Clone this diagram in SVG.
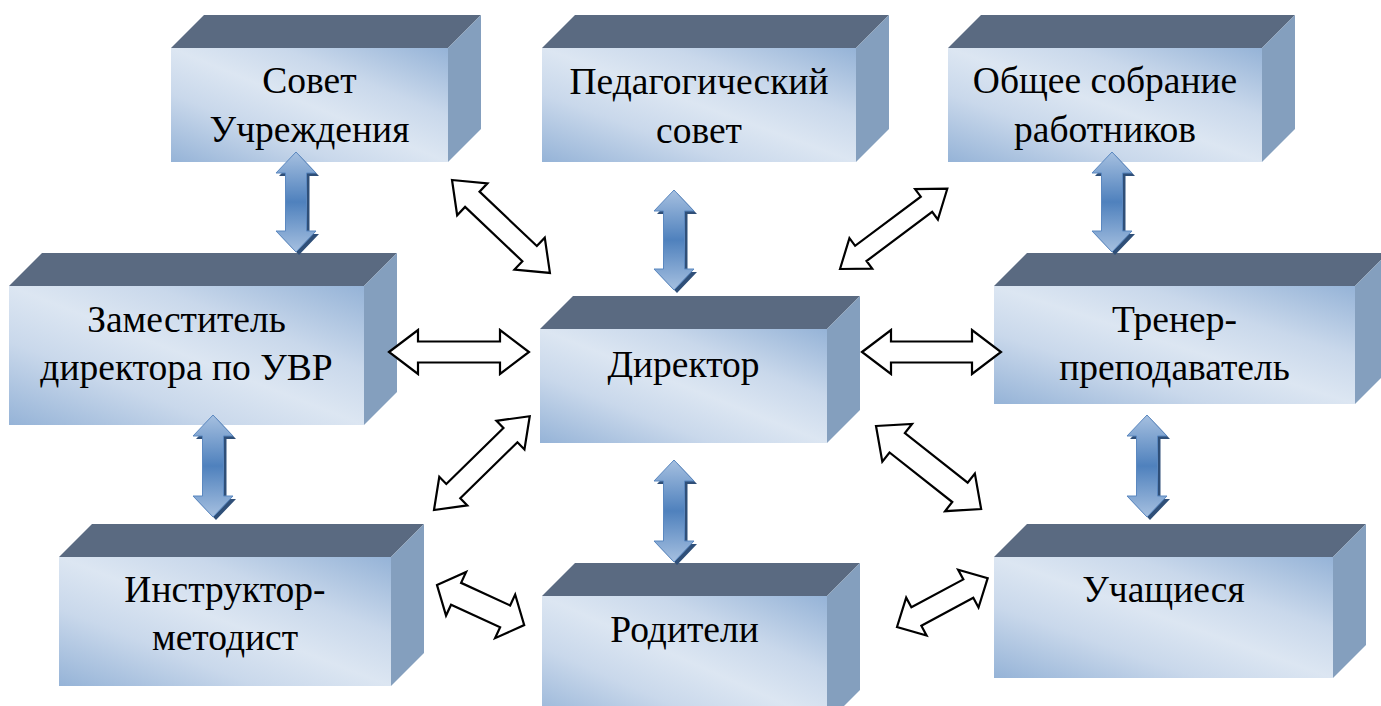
<svg xmlns="http://www.w3.org/2000/svg" width="1381" height="706" viewBox="0 0 1381 706">
<defs>
<style>
.front{fill:url(#gFront)}
.top{fill:#5a6a81}
.side{fill:#849fbe}
.lbl{font-family:"Liberation Serif","Times New Roman","DejaVu Serif",serif;font-size:37.5px;fill:#000;text-anchor:middle}
.wa{fill:#fff;stroke:#000;stroke-width:2.2;stroke-linejoin:miter}
.ba{fill:url(#gBlue);stroke:#5b88c0;stroke-width:1}
.bs{fill:#2f4f78}
</style>
<linearGradient id="gFront" x1="0" y1="1" x2="1" y2="0">
<stop offset="0" stop-color="#95b3d7"/>
<stop offset="0.3" stop-color="#c9d8eb"/>
<stop offset="0.5" stop-color="#dce6f2"/>
<stop offset="0.7" stop-color="#c9d8eb"/>
<stop offset="1" stop-color="#95b3d7"/>
</linearGradient>
<linearGradient id="gBlue" x1="0" y1="0" x2="0" y2="1">
<stop offset="0" stop-color="#a6c0e0"/>
<stop offset="0.5" stop-color="#4f81bd"/>
<stop offset="1" stop-color="#a6c0e0"/>
</linearGradient>
<path id="bv100" d="M0,0 L20,21 L10.5,21 L10.5,79 L20,79 L0,100 L-20,79 L-10.5,79 L-10.5,21 L-20,21 Z"/>
<path id="bv102" d="M0,0 L20,21 L10.5,21 L10.5,81 L20,81 L0,102 L-20,81 L-10.5,81 L-10.5,21 L-20,21 Z"/>
</defs>
<rect width="1381" height="706" fill="#fff"/>

<g id="node-sovet">
<polygon class="top" points="171,48 204,15 481,15 448,48"/>
<polygon class="side" points="448,48 481,15 481,129 448,162"/>
<rect class="front" x="171" y="48" width="277" height="114"/>
<text class="lbl" x="309.5" y="93">Совет</text>
<text class="lbl" x="309.5" y="142">Учреждения</text>
</g>

<g id="node-pedsovet">
<polygon class="top" points="542,48 575,15 889,15 856,48"/>
<polygon class="side" points="856,48 889,15 889,129 856,162"/>
<rect class="front" x="542" y="48" width="314" height="114"/>
<text class="lbl" x="699" y="94">Педагогический</text>
<text class="lbl" x="699" y="143">совет</text>
</g>

<g id="node-sobranie">
<polygon class="top" points="948,48 981,15 1295,15 1262,48"/>
<polygon class="side" points="1262,48 1295,15 1295,129 1262,162"/>
<rect class="front" x="948" y="48" width="314" height="114"/>
<text class="lbl" x="1105" y="93">Общее собрание</text>
<text class="lbl" x="1105" y="142">работников</text>
</g>

<g id="node-zam">
<polygon class="top" points="9,286 42,253 397,253 364,286"/>
<polygon class="side" points="364,286 397,253 397,392 364,425"/>
<rect class="front" x="9" y="286" width="355" height="139"/>
<text class="lbl" x="186.5" y="332">Заместитель</text>
<text class="lbl" x="186.5" y="380">директора по УВР</text>
</g>

<g id="node-director">
<polygon class="top" points="540,329 573,296 860,296 827,329"/>
<polygon class="side" points="827,329 860,296 860,410 827,443"/>
<rect class="front" x="540" y="329" width="287" height="114"/>
<text class="lbl" x="683.5" y="377">Директор</text>
</g>

<g id="node-trener">
<polygon class="top" points="994,286 1027,253 1388,253 1355,286"/>
<polygon class="side" points="1355,286 1388,253 1388,371 1355,404"/>
<rect class="front" x="994" y="286" width="361" height="118"/>
<text class="lbl" x="1174.5" y="332">Тренер-</text>
<text class="lbl" x="1174.5" y="380">преподаватель</text>
</g>

<g id="node-instruktor">
<polygon class="top" points="59,557 92,524 424,524 391,557"/>
<polygon class="side" points="391,557 424,524 424,653 391,686"/>
<rect class="front" x="59" y="557" width="332" height="129"/>
<text class="lbl" x="225" y="602">Инструктор-</text>
<text class="lbl" x="225" y="650">методист</text>
</g>

<g id="node-roditeli">
<polygon class="top" points="542,596 575,563 860,563 827,596"/>
<polygon class="side" points="827,596 860,563 860,690 827,723"/>
<rect class="front" x="542" y="596" width="285" height="127"/>
<text class="lbl" x="684.5" y="642">Родители</text>
</g>

<g id="node-uchashiesya">
<polygon class="top" points="994,557 1027,524 1366,524 1333,557"/>
<polygon class="side" points="1333,557 1366,524 1366,645 1333,678"/>
<rect class="front" x="994" y="557" width="339" height="121"/>
<text class="lbl" x="1163.5" y="602">Учащиеся</text>
</g>

<g id="connectors">
<g id="blue-arrows">
<use href="#bv100" class="bs" transform="translate(299,155)"/>
<use href="#bv100" class="ba" transform="translate(296,152)"/>
<use href="#bv100" class="bs" transform="translate(677,193)"/>
<use href="#bv100" class="ba" transform="translate(674,190)"/>
<use href="#bv100" class="bs" transform="translate(1115,155)"/>
<use href="#bv100" class="ba" transform="translate(1112,152)"/>
<use href="#bv102" class="bs" transform="translate(216,418)"/>
<use href="#bv102" class="ba" transform="translate(213,415)"/>
<use href="#bv102" class="bs" transform="translate(1150,418)"/>
<use href="#bv102" class="ba" transform="translate(1147,415)"/>
<use href="#bv102" class="bs" transform="translate(677,463)"/>
<use href="#bv102" class="ba" transform="translate(674,460)"/>
</g>
<g id="white-arrows">
<path class="wa" transform="translate(452,180) rotate(43.5)" d="M0,0 L28,-22 L28,-10.5 L107,-10.5 L107,-22 L135,0 L107,22 L107,10.5 L28,10.5 L28,22 Z"/>
<path class="wa" transform="translate(389,352)" d="M0,0 L29,-22 L29,-10.5 L111,-10.5 L111,-22 L140,0 L111,22 L111,10.5 L29,10.5 L29,22 Z"/>
<path class="wa" transform="translate(840,269) rotate(-36.8)" d="M0,0 L26,-19 L26,-9.5 L108,-9.5 L108,-19 L134,0 L108,19 L108,9.5 L26,9.5 L26,19 Z"/>
<path class="wa" transform="translate(862,352)" d="M0,0 L29,-22 L29,-10.5 L110,-10.5 L110,-22 L139,0 L110,22 L110,10.5 L29,10.5 L29,22 Z"/>
<path class="wa" transform="translate(434,510) rotate(-44.4)" d="M0,0 L27,-20 L27,-10 L107,-10 L107,-20 L134,0 L107,20 L107,10 L27,10 L27,20 Z"/>
<path class="wa" transform="translate(437,585) rotate(24.7)" d="M0,0 L21,-24 L21,-12 L75,-12 L75,-24 L96,0 L75,24 L75,12 L21,12 L21,24 Z"/>
<path class="wa" transform="translate(876,426) rotate(38.3)" d="M0,0 L27,-24 L27,-12.4 L107,-12.4 L107,-24 L134,0 L107,24 L107,12.4 L27,12.4 L27,24 Z"/>
<path class="wa" transform="translate(897,627) rotate(-28.3)" d="M0,0 L22,-21.5 L22,-10.5 L81,-10.5 L81,-21.5 L103,0 L81,21.5 L81,10.5 L22,10.5 L22,21.5 Z"/>
</g>
</g>
</svg>
